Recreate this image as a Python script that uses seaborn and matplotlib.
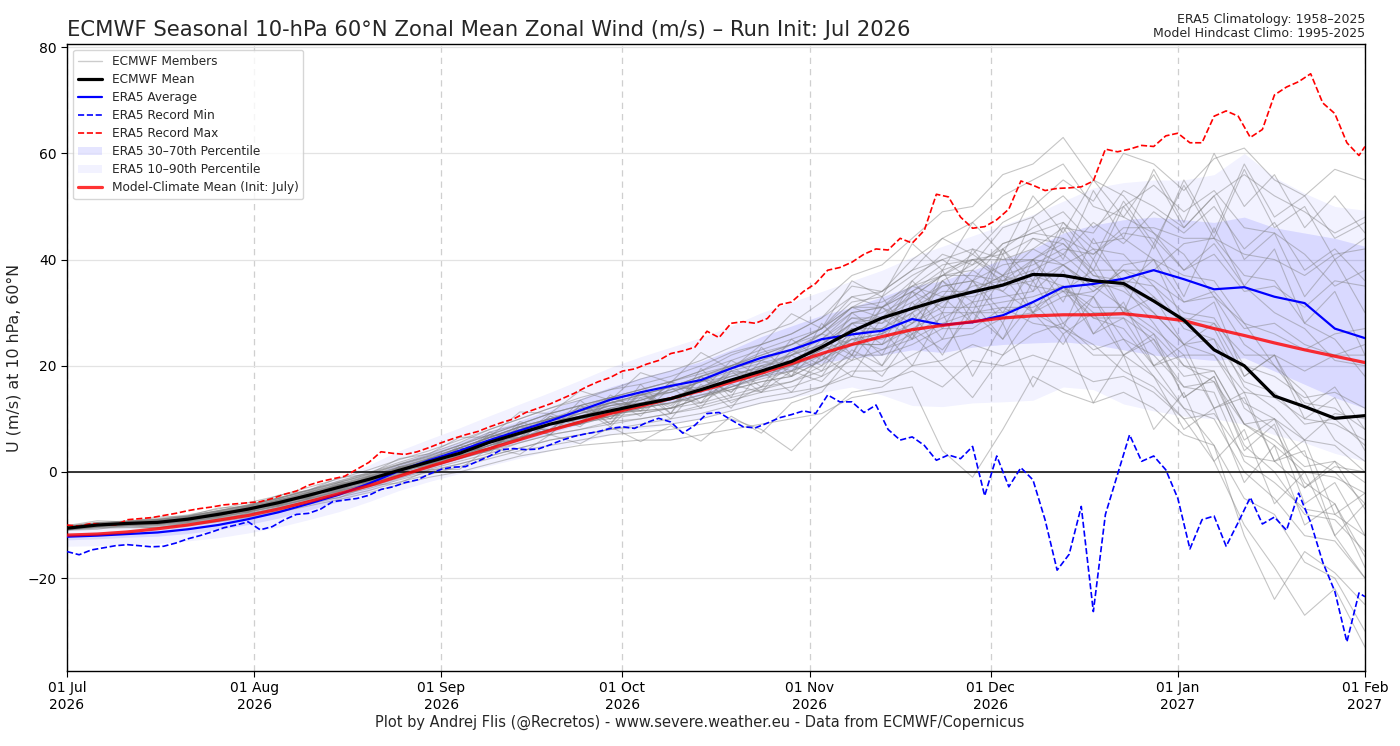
import numpy as np
import pandas as pd
import matplotlib
matplotlib.use("Agg")
import matplotlib.pyplot as plt
import matplotlib.dates as mdates
from matplotlib.lines import Line2D
from matplotlib.patches import Patch
import seaborn as sns

# ---------------- data ----------------
start_date = "2026-07-01"
step_days = list(range(0, 216, 5))            # 5-day grid, Jul 1 -> Feb 1 (44 points)
rec_days = list(range(0, 215, 2)) + [215]     # 2-day grid for the ERA5 records

ecmwf_mean = [-10.6, -10.0, -9.7, -9.5, -8.9, -8.0, -7.0, -5.8, -4.4, -2.9, -1.4, 0.3, 1.9, 3.5, 5.6,
              7.3, 9.0, 10.3, 11.5, 12.7, 13.8, 15.5, 17.3, 19.0, 20.8, 23.5, 26.5, 29.0, 30.8, 32.5,
              33.9, 35.2, 37.2, 37.0, 36.0, 35.5, 32.2, 28.6, 23.0, 20.0, 14.3, 12.3, 10.1, 10.6]
era5_avg = [-12.2, -12.0, -11.7, -11.4, -10.8, -10.0, -8.9, -7.6, -6.0, -4.3, -2.2, 0.2, 2.2, 4.0, 6.0,
            7.8, 9.6, 11.6, 13.6, 15.0, 16.2, 17.3, 19.5, 21.5, 23.0, 25.0, 25.9, 26.6, 28.8, 27.7,
            28.2, 29.5, 32.0, 34.8, 35.4, 36.4, 38.0, 36.3, 34.4, 34.8, 33.0, 31.8, 27.0, 25.2]
model_clim = [-11.9, -11.7, -11.3, -10.7, -10.0, -9.1, -8.2, -7.0, -5.6, -4.1, -2.6, -0.8, 1.0, 2.7, 4.4,
              6.1, 7.8, 9.4, 11.0, 12.4, 13.8, 15.3, 16.9, 18.6, 20.4, 22.3, 24.0, 25.5, 26.8, 27.6,
              28.3, 29.0, 29.4, 29.6, 29.6, 29.8, 29.2, 28.5, 27.0, 25.7, 24.3, 23.0, 21.8, 20.6]

era5_p10 = [-14.0, -13.9, -13.7, -13.5, -13.0, -12.4, -11.5, -10.4, -9.0, -7.5, -5.6, -3.5, -1.8, -0.3, 1.2,
            2.6, 4.0, 5.5, 7.0, 8.0, 9.0, 10.0, 11.5, 13.0, 14.0, 15.0, 16.0, 14.5, 12.5, 12.3,
            13.0, 13.2, 13.5, 16.0, 15.5, 12.8, 11.5, 10.5, 10.0, 9.0, 7.0, 5.5, 3.5, 2.0]
era5_p30 = [-12.8, -12.6, -12.3, -12.1, -11.6, -10.9, -9.9, -8.7, -7.2, -5.6, -3.6, -1.3, 0.6, 2.3, 4.1,
            5.7, 7.3, 9.0, 10.8, 12.0, 13.2, 14.3, 16.0, 17.8, 19.2, 20.5, 21.5, 22.0, 23.0, 22.5,
            23.5, 24.0, 24.3, 24.5, 24.0, 23.0, 22.0, 21.5, 21.0, 21.5, 19.0, 16.5, 14.0, 12.0]
era5_p70 = [-11.5, -11.3, -11.0, -10.6, -9.9, -9.0, -7.8, -6.4, -4.8, -3.0, -0.9, 1.6, 3.7, 5.6, 7.7,
            9.7, 11.7, 13.8, 16.0, 17.7, 19.2, 20.8, 23.0, 25.5, 27.5, 29.5, 31.0, 33.0, 35.0, 36.0,
            38.0, 40.0, 42.0, 45.0, 46.5, 47.5, 48.0, 47.5, 47.0, 48.0, 46.0, 45.0, 44.0, 42.5]
era5_p90 = [-10.5, -10.3, -9.9, -9.4, -8.6, -7.6, -6.3, -4.8, -3.0, -1.0, 1.3, 4.0, 6.2, 8.3, 10.6,
            12.8, 15.0, 17.3, 19.7, 21.7, 23.5, 25.3, 27.5, 30.0, 32.0, 34.0, 36.0, 38.0, 40.5, 42.5,
            44.5, 46.5, 48.5, 51.0, 53.5, 54.5, 55.0, 55.0, 56.0, 60.0, 55.5, 52.5, 50.0, 49.3]

era5_rec_max = [-10.0, -10.2, -9.7, -9.9, -10.0, -9.0, -8.8, -8.6, -8.2, -7.8,
                -7.3, -6.9, -6.6, -6.2, -6.0, -5.8, -5.6, -5.0, -4.2, -3.6,
                -2.5, -1.8, -1.3, -0.8, 0.5, 1.8, 3.8, 3.5, 3.3, 3.8,
                4.6, 5.5, 6.3, 7.0, 7.6, 8.5, 9.3, 10.0, 11.2, 12.0,
                12.8, 13.8, 14.8, 16.0, 17.0, 17.8, 19.0, 19.4, 20.3, 21.0,
                22.3, 22.8, 23.5, 26.5, 25.3, 28.0, 28.3, 28.0, 28.9, 31.5,
                32.0, 34.0, 35.5, 38.0, 38.5, 39.5, 41.0, 42.0, 41.8, 44.0,
                43.1, 45.5, 52.3, 51.8, 48.0, 45.9, 46.2, 47.5, 49.5, 54.8,
                54.0, 53.0, 53.4, 53.5, 53.7, 54.8, 60.8, 60.3, 60.8, 61.5,
                61.3, 63.3, 63.8, 62.0, 62.0, 67.0, 68.0, 67.0, 63.0, 64.5,
                71.0, 72.5, 73.5, 75.0, 69.5, 67.5, 62.0, 59.6, 61.3]
era5_rec_min = [-15.0, -15.6, -14.7, -14.3, -13.9, -13.7, -13.9, -14.1, -14.0, -13.4,
                -12.6, -12.0, -11.3, -10.5, -10.0, -9.4, -10.9, -10.3, -9.0, -8.0,
                -7.8, -7.0, -5.6, -5.3, -5.0, -4.4, -3.3, -2.8, -2.0, -1.5,
                -0.4, 0.5, 0.9, 1.0, 2.0, 3.0, 4.2, 4.4, 4.2, 4.3,
                5.1, 6.0, 6.7, 7.2, 7.6, 8.2, 8.5, 8.2, 9.3, 10.1,
                9.4, 7.3, 8.8, 11.0, 11.2, 9.8, 8.5, 8.3, 9.2, 10.2,
                10.8, 11.5, 11.0, 14.5, 13.2, 13.2, 11.2, 12.6, 8.0, 6.0,
                6.6, 5.0, 2.2, 3.2, 2.5, 4.8, -4.5, 3.0, -2.8, 0.8,
                -1.5, -9.0, -18.5, -15.5, -6.5, -26.3, -8.0, -0.5, 7.0, 2.0,
                3.0, 0.4, -5.0, -14.5, -9.0, -8.3, -14.0, -9.5, -4.8, -9.8,
                -8.5, -11.0, -4.0, -9.5, -17.0, -22.5, -32.0, -22.8, -23.5]

# ECMWF ensemble members (5-day grid, m/s)
ecmwf_members = [
    [-10.4, -9.7, -9.3, -9.0, -8.4, -7.3, -6.2, -4.9, -3.4, -1.7, -0.1, 1.8, 3.5,
     5.5, 8, 10, 12, 13.5, 15.5, 16.5, 18, 20, 22.5, 24, 26,
     29, 35, 34, 40, 44, 41, 47, 50, 55, 51, 60, 58, 53, 59, 61, 55, 52, 57, 55],
    [-10.5, -10.0, -9.5, -9.4, -8.6, -7.8, -6.6, -5.5, -3.9, -2.5, -0.8, 0.8, 2.5,
     4.5, 6.5, 8, 10, 11.5, 13, 14.5, 16, 18, 20, 22.5, 24,
     27, 33, 31, 36, 41, 39, 46, 48, 52, 46, 50, 54, 49, 53, 46, 45, 41, 35, 38],
    [-10.7, -10.2, -9.9, -9.8, -9.2, -8.4, -7.5, -6.3, -5.0, -3.6, -2.1, -0.5, 1.0,
     2.5, 4, 6, 8, 9.5, 10, 11, 12, 14, 17, 19.5, 22,
     26, 31, 34, 38, 44, 47, 52, 55, 58, 50, 48, 45, 38, 43, 35, 30, 27, 21, 20],
    [-10.3, -9.8, -9.6, -9.5, -9.0, -8.0, -6.9, -5.6, -4.4, -3.0, -1.3, 0.3, 2.0,
     3.5, 5, 7.5, 9, 10.5, 12.5, 13.5, 15, 17, 18, 19, 20,
     23, 28, 29, 33, 37, 41, 37, 42, 46, 45, 53, 50, 46, 52, 56, 52, 49, 45, 48],
    [-10.8, -10.3, -10.1, -10.0, -9.5, -8.7, -7.8, -6.7, -5.4, -4.0, -2.6, -1.0, 0.5,
     2, 3.5, 5.5, 7, 8, 9.5, 10, 11, 12.5, 14, 15.5, 17,
     20, 24, 24, 28, 32, 35, 36, 40, 44, 41, 45, 44, 38, 41, 34, 35, 31, 36, 35],
    [-10.3, -9.6, -9.4, -9.0, -8.3, -7.4, -6.3, -5.0, -3.5, -2.0, -0.4, 1.4, 3.0,
     5, 7.5, 9, 11, 12.5, 14, 15.5, 17, 19, 21, 23, 25,
     27, 31, 32, 35, 37, 40, 36, 38, 41, 36, 34, 30, 24, 25, 17, 15, 9, 10, 5],
    [-10.6, -10.1, -9.7, -9.7, -9.0, -8.3, -7.2, -6.2, -4.7, -3.4, -1.8, -0.2, 1.5,
     3, 4.5, 6.5, 8, 9, 10.5, 12, 13, 14.5, 16, 17.5, 19,
     22, 26, 27, 31, 36, 39, 42, 46, 49, 43, 44, 40, 32, 33, 24, 20, 13, 12, 8],
    [-10.2, -9.5, -9.3, -8.9, -8.4, -7.3, -6.4, -5.0, -3.7, -2.0, -0.6, 1.3, 2.8,
     4.5, 6.5, 8.5, 10, 11, 12.5, 13, 14, 16, 18, 20, 21,
     23, 25, 23, 26, 29, 32, 33, 34, 39, 34, 38, 36, 32, 34, 27, 28, 24, 22, 24],
    [-10.9, -10.2, -10.1, -9.8, -9.4, -8.4, -7.6, -6.3, -5.1, -3.5, -2.2, -0.4, 1.2,
     3, 5, 7, 9, 10, 11.5, 12, 13, 14, 15.5, 17, 18,
     21, 25, 26, 29, 33, 34, 37, 35, 34, 29, 29, 25, 18, 19, 9, 5, 0, -1, -4],
    [-10.8, -10.4, -10.2, -10.2, -9.7, -8.9, -8.1, -7.0, -5.8, -4.4, -3.1, -1.5, 0.0,
     1.5, 3, 4.5, 6, 7, 8, 8.5, 9, 10, 11.5, 13, 14,
     16, 19, 19, 22, 25, 26, 29, 30, 33, 34, 38, 38, 43, 44, 41, 40, 37, 41, 42],
    [-10.5, -9.8, -9.6, -9.2, -8.7, -7.7, -6.8, -5.4, -4.1, -2.5, -1.1, 0.7, 2.2,
     4, 5.5, 7.5, 9, 11, 13, 14.5, 16, 18, 19.5, 21, 23,
     26, 30, 31, 34, 38, 40, 41, 44, 43, 37, 36, 30, 24, 22, 13, 10, 3, 0, -6],
    [-10.4, -9.6, -9.2, -8.8, -8.1, -7.0, -5.8, -4.5, -2.9, -1.3, 0.4, 2.3, 4.0,
     6, 8, 10, 12, 14, 15.5, 17.5, 19, 21, 23.5, 26, 28,
     32, 37, 39, 44, 49, 50, 56, 58, 63, 55, 52, 45, 41, 33, 28, 20, 15, 6, 2],
    [-10.6, -9.9, -9.8, -9.5, -8.8, -8.1, -7.0, -5.7, -4.5, -2.9, -1.3, 0.3, 1.8,
     3.5, 5, 6.5, 8, 9.5, 10.5, 11, 12, 14, 16, 18, 20,
     23, 27, 27, 30, 33, 33, 35, 36, 39, 35, 35, 32, 29, 28, 22, 22, 19, 22, 22],
    [-10.9, -10.5, -10.4, -10.4, -9.9, -9.2, -8.4, -7.4, -6.1, -4.8, -3.5, -1.9, -0.5,
     1, 2.5, 4, 5, 6, 7, 7.5, 8, 9, 10, 8, 4,
     10, 15, 16, 20, 21, 24, 22, 26, 28, 23, 25, 22, 16, 17, 9, 10, 6, 11, 10],
    [-10.5, -9.7, -9.3, -9.0, -8.3, -7.3, -6.2, -4.9, -3.4, -1.8, -0.2, 1.5, 3.2,
     5, 7, 9, 11, 12.5, 14, 14.5, 15, 17, 20, 22, 24,
     27, 32, 33, 37, 40, 42, 40, 40, 39, 42, 36, 35, 30, 29, 20, 18, 14, 15, 12],
    [-10.7, -10.2, -10.0, -9.8, -9.3, -8.5, -7.5, -6.4, -5.1, -3.6, -2.2, -0.5, 1.0,
     2.5, 4, 5.5, 7, 8, 9, 10, 11, 12, 13.5, 15, 16,
     18, 21, 23, 25, 28, 30, 30, 32, 35, 30, 30, 26, 20, 19, 9, 6, 1, 2, -2],
    [-10.4, -9.8, -9.4, -9.2, -8.5, -7.6, -6.5, -5.3, -3.8, -2.3, -0.7, 1.0, 2.6,
     4.5, 6.5, 8.5, 10, 11.5, 13, 14, 15, 17, 19, 20.5, 22,
     24, 28, 28, 31, 34, 34, 37, 39, 42, 41, 46, 46, 44, 44, 37, 36, 28, 25, 18],
    [-10.8, -10.3, -10.0, -9.9, -9.4, -8.6, -7.6, -6.5, -5.2, -3.8, -2.3, -0.7, 0.8,
     2.5, 4.5, 6.5, 8, 9.5, 11, 12.5, 14, 15.5, 17, 19, 21,
     24, 28, 30, 33, 37, 38, 43, 45, 44, 37, 35, 28, 20, 17, 5, 0, -8, -9, -15],
    [-10.6, -9.8, -9.6, -9.3, -8.8, -7.8, -6.9, -5.6, -4.3, -2.7, -1.3, 0.5, 2.0,
     3.5, 5.5, 7.5, 9, 10.5, 12, 13, 14, 15.5, 17, 18, 19,
     21, 24, 24, 27, 30, 30, 31, 28, 27, 22, 22, 18, 12, 10, 0, -5, -12, -13, -20],
    [-10.7, -10.0, -9.9, -9.6, -9.2, -8.2, -7.4, -6.1, -4.9, -3.3, -1.9, -0.1, 1.4,
     3, 5, 7, 9, 10, 11, 11.5, 12, 13, 14.5, 16, 17,
     19, 22, 22, 24, 27, 27, 31, 31, 34, 33, 39, 40, 37, 36, 28, 26, 23, 26, 27],
    [-10.4, -9.9, -9.4, -9.3, -8.5, -7.7, -6.5, -5.4, -3.9, -2.5, -0.9, 0.8, 2.4,
     4.5, 6.5, 8.5, 10, 11.5, 13, 14.5, 16, 18, 20, 22, 24,
     27, 31, 31, 34, 37, 37, 36, 37, 35, 29, 27, 20, 12, 5, -12, -24, -15, -19, -25],
    [-10.9, -10.4, -10.2, -10.1, -9.6, -8.8, -7.9, -6.8, -5.5, -4.1, -2.8, -1.2, 0.3,
     1.5, 3, 4.5, 6, 7, 8, 9, 10, 11, 12.5, 14, 15,
     16, 18, 17, 19, 16, 21, 20, 22, 20, 17, 18, 15, 10, 11, 3, 2, -3, 1, 0],
    [-10.4, -9.7, -9.3, -9.0, -8.3, -7.4, -6.3, -5.0, -3.5, -2.0, -0.4, 1.4, 3.0,
     5, 7, 9, 11, 12.5, 14, 15.5, 17, 18.5, 20, 21.5, 23,
     25, 29, 29, 32, 35, 36, 39, 40, 43, 38, 38, 33, 28, 27, 16, 12, 6, 5, 0],
    [-10.6, -10.1, -9.7, -9.6, -9.1, -8.1, -7.2, -6.1, -4.6, -3.2, -1.7, 0.0, 1.6,
     3, 4.5, 6.5, 8, 9, 10.5, 12, 13, 14.5, 15.5, 17, 18,
     21, 25, 26, 30, 35, 36, 43, 45, 47, 42, 41, 35, 27, 25, 12, 8, -2, -6, -18],
    [-10.5, -10.0, -9.5, -9.4, -8.7, -7.7, -6.8, -5.5, -4.2, -2.6, -1.1, 0.7, 2.2,
     4, 5.5, 7.5, 9, 10, 11, 11.5, 12, 14, 16, 18, 20,
     22, 25, 25, 28, 31, 31, 32, 33, 35, 31, 31, 27, 22, 22, 15, 14, 10, 9, 6],
    [-10.9, -10.6, -10.5, -10.5, -10.1, -9.4, -8.6, -7.6, -6.4, -5.2, -3.9, -2.4, -1.0,
     0, 1.5, 3, 4, 5, 5.5, 6, 6, 7, 8, 9, 10,
     11, 14, 15, 16, 4, -1, 8, 18, 15, 13, 15, 12, 7, 5, -5, -8, -17, -20, -30],
    [-10.8, -10.1, -9.9, -9.9, -9.2, -8.6, -7.4, -6.5, -5.0, -3.7, -2.1, -0.6, 1.0,
     3, 5, 6.5, 8, 9.5, 11, 12.5, 14, 16, 18, 20, 22,
     25, 30, 31, 35, 39, 40, 40, 42, 39, 35, 31, 24, 16, 15, 2, -2, -7, -8, -12],
    [-10.4, -9.7, -9.4, -9.1, -8.5, -7.5, -6.5, -5.3, -3.8, -2.3, -0.8, 0.9, 2.5,
     4.5, 6.5, 8.5, 10, 12, 14, 15.5, 17, 19, 22, 24, 26,
     29, 33, 34, 38, 40, 36, 34, 30, 27, 24, 19, 16, 10, 2, -10, -18, -27, -22, -33],
    [-10.1, -9.2, -9.4, -8.5, -8.3, -6.8, -6.5, -4.4, -3.5, -1.1, -0.4, 2.5, 3.4,
     6.5, 6.6, 11.3, 11.0, 15.3, 13.5, 18.7, 16.8, 22.5, 19.3, 24.0, 29.8,
     27, 36, 33, 43, 38, 47, 41, 52, 45, 55, 48, 56, 46, 52, 40, 45, 33, 40, 30],
    [-11.0, -10.8, -10.0, -10.6, -9.5, -9.3, -7.7, -7.4, -5.4, -4.9, -2.6, -2.1, 0.4,
     0.5, 4.6, 3.3, 7.0, 5.3, 8.5, 5.7, 8.7, 5.8, 10.5, 7.3, 13.0,
     15, 22, 18, 26, 20, 14, 22, 30, 24, 33, 25, 18, 8, 12, -2, 5, -10, -6, -16],
    [-10.5, -9.7, -9.8, -9.0, -8.9, -7.5, -7.3, -5.0, -4.8, -2.0, -2.0, 1.0, 1.5,
     4.5, 4.0, 8.5, 8.0, 12.5, 10.0, 15.0, 12.0, 18.0, 15.0, 21.0, 19.0,
     25, 22, 31, 26, 36, 30, 42, 34, 46, 38, 50, 42, 55, 45, 58, 48, 52, 44, 47],
    [-10.8, -10.3, -9.4, -9.8, -8.5, -8.4, -6.6, -6.4, -3.9, -3.7, -0.8, -0.7, 2.6,
     3.0, 7.0, 6.5, 11.0, 9.0, 14.5, 11.5, 17.0, 13.0, 20.0, 16.0, 23.0,
     20, 28, 24, 34, 27, 36, 30, 38, 28, 33, 22, 26, 14, 18, 4, 9, -6, -2, -12],
    [-10.2, -9.6, -10.0, -9.0, -9.3, -7.5, -7.6, -5.2, -5.0, -2.3, -2.2, 1.0, 0.8,
     4.5, 3.5, 9.0, 7.0, 12.5, 9.0, 15.0, 11.0, 18.0, 13.0, 16.0, 20.0,
     18, 26, 20, 30, 22, 32, 25, 36, 27, 40, 30, 43, 33, 46, 35, 42, 28, 34, 22],
    [-10.9, -9.6, -10.1, -9.1, -9.3, -7.6, -7.5, -5.3, -4.9, -2.4, -2.0, 0.8, 1.2,
     5.0, 4.0, 9.5, 7.5, 13.5, 9.0, 16.5, 11.0, 19.5, 14.0, 23.5, 18.0,
     28, 22, 33, 25, 38, 28, 41, 30, 38, 26, 32, 20, 24, 12, 15, 2, 6, -8, -4],
    [-10.5, -10.4, -9.3, -9.9, -8.5, -8.4, -6.5, -6.3, -4.0, -3.4, -0.9, -0.3, 2.4,
     3.0, 7.5, 6.0, 10.5, 8.5, 13.5, 10.5, 16.0, 12.0, 19.0, 15.0, 22.0,
     19, 27, 22, 32, 25, 36, 28, 40, 32, 44, 35, 40, 28, 32, 18, 22, 10, 14, 4],
    [-10.7, -9.8, -9.9, -9.2, -9.2, -7.6, -7.3, -5.4, -4.8, -2.4, -1.9, 0.7, 1.0,
     4.5, 4.0, 8.5, 7.0, 12.0, 8.5, 14.0, 10.0, 16.5, 12.0, 19.0, 15.0,
     22, 18, 27, 20, 30, 18, 28, 16, 26, 13, 22, 8, 15, 2, 8, -6, 0, -12, -6],
    [-10.3, -10.2, -9.5, -9.7, -8.6, -8.2, -6.7, -6.0, -4.1, -3.2, -1.0, 0.0, 2.3,
     3.2, 7.0, 6.0, 10.5, 9.0, 14.0, 12.0, 17.0, 15.0, 21.0, 18.0, 25.0,
     21, 30, 26, 36, 30, 42, 35, 48, 40, 53, 44, 57, 47, 60, 50, 56, 46, 52, 45],
    [-10.6, -9.7, -10.0, -9.1, -9.2, -7.7, -7.4, -5.5, -4.8, -2.5, -2.0, 0.6, 1.4,
     4.0, 4.5, 8.0, 8.0, 11.5, 10.0, 14.5, 12.5, 17.5, 15.0, 20.0, 18.0,
     24, 21, 29, 25, 33, 28, 37, 30, 35, 26, 29, 20, 22, 12, 14, 2, 4, -12, -20],
    [-10.4, -10.2, -9.5, -9.6, -8.7, -8.3, -6.8, -6.1, -4.2, -3.1, -1.1, 0.2, 2.1,
     3.5, 6.5, 6.5, 10.0, 9.5, 13.0, 12.5, 16.5, 15.0, 19.0, 18.5, 22.0,
     24, 29, 28, 34, 31, 38, 34, 40, 34, 38, 30, 33, 24, 28, 18, 22, 12, 16, 8],
    [-10.8, -10.0, -9.9, -9.3, -9.1, -7.8, -7.2, -5.6, -4.6, -2.6, -1.6, 0.4, 1.7,
     4.0, 5.5, 8.0, 9.0, 11.0, 12.5, 13.5, 15.5, 16.0, 18.5, 19.5, 22.5,
     26, 24, 31, 28, 36, 32, 42, 36, 47, 40, 51, 43, 54, 44, 57, 46, 50, 40, 44],
    [-10.5, -9.9, -9.6, -9.6, -8.8, -8.0, -7.1, -5.8, -4.5, -2.9, -1.6, 0.2, 1.7,
     3.0, 5.5, 6.0, 9.0, 9.0, 12.0, 11.5, 14.0, 13.0, 16.5, 15.0, 19.0,
     17, 23, 20, 27, 23, 30, 25, 32, 26, 30, 22, 25, 14, 18, 6, 10, -3, 2, -7],
    [-10.6, -10.1, -9.6, -9.4, -8.8, -8.2, -6.9, -5.9, -4.3, -3.0, -1.3, 0.1, 2.0,
     4.0, 5.5, 7.5, 9.5, 10.5, 12.0, 13.5, 15.5, 17.0, 19.5, 21.0, 24.0,
     26, 31, 29, 35, 33, 40, 37, 44, 41, 47, 43, 49, 45, 50, 42, 47, 38, 42, 36],
]

title_text = "ECMWF Seasonal 10-hPa 60°N Zonal Mean Zonal Wind (m/s) – Run Init: Jul 2026"
info_text = "ERA5 Climatology: 1958–2025\nModel Hindcast Climo: 1995-2025"
footer_text = "Plot by Andrej Flis (@Recretos) - www.severe.weather.eu - Data from ECMWF/Copernicus"
ylabel_text = "U (m/s) at 10 hPa, 60°N"

# ---------------- build frames ----------------
t0 = pd.Timestamp(start_date)
dates = t0 + pd.to_timedelta(step_days, unit="D")
rec_dates = t0 + pd.to_timedelta(rec_days, unit="D")

for m in ecmwf_members:
    assert len(m) == len(step_days), len(m)

mem_df = pd.DataFrame({
    "date": np.tile(dates, len(ecmwf_members)),
    "u": np.concatenate([np.asarray(m, float) for m in ecmwf_members]),
    "member": np.repeat(np.arange(len(ecmwf_members)), len(step_days)),
})

# ---------------- plot ----------------
sns.set_style("ticks")
plt.rcParams["font.family"] = ["DejaVu Sans"]

fig, ax = plt.subplots(figsize=(14, 7.46), dpi=100)
fig.subplots_adjust(left=0.0479, right=0.975, top=0.941, bottom=0.1005)

ax.set_axisbelow(True)
ax.yaxis.grid(True, color="#e3e3e3", lw=0.9)
ax.xaxis.grid(True, color="#cfcfcf", lw=0.9, ls=(0, (5, 4)))

ax.fill_between(dates, era5_p10, era5_p90, color="blue", alpha=0.05, lw=0, zorder=1)
ax.fill_between(dates, era5_p30, era5_p70, color="blue", alpha=0.10, lw=0, zorder=1)

sns.lineplot(data=mem_df, x="date", y="u", units="member", estimator=None,
             color="gray", alpha=0.45, lw=0.8, legend=False, ax=ax, zorder=2)

ax.axhline(0, color="black", lw=1.1, zorder=3)

sns.lineplot(x=rec_dates, y=era5_rec_min, color="blue", lw=1.2, ls="--", ax=ax, zorder=4)
sns.lineplot(x=rec_dates, y=era5_rec_max, color="red", lw=1.2, ls="--", ax=ax, zorder=4)
sns.lineplot(x=dates, y=era5_avg, color="blue", lw=1.6, ax=ax, zorder=5)
sns.lineplot(x=dates, y=model_clim, color="red", alpha=0.8, lw=2.3, ax=ax, zorder=5)
sns.lineplot(x=dates, y=ecmwf_mean, color="black", lw=2.3, ax=ax, zorder=6)

ax.set_xlim(t0, t0 + pd.Timedelta(days=215))
ax.set_ylim(-37.5, 80.6)
ax.set_yticks([-20, 0, 20, 40, 60, 80])
ax.xaxis.set_major_locator(mdates.MonthLocator())
ax.xaxis.set_major_formatter(mdates.DateFormatter("%d %b\n%Y"))
ax.tick_params(axis="both", labelsize=10, colors="black", length=4)
for s in ax.spines.values():
    s.set_color("black")
    s.set_linewidth(1.0)

ax.set_xlabel("")
ax.set_ylabel(ylabel_text, fontsize=11.4)
ax.set_title(title_text, loc="left", fontsize=15.2, pad=6)
ax.text(1.0, 1.006, info_text, transform=ax.transAxes, ha="right", va="bottom",
        fontsize=9, linespacing=1.15)
fig.text(0.5, 0.032, footer_text, ha="center", va="center", fontsize=10.5)

handles = [
    Line2D([], [], color="gray", alpha=0.4, lw=1.0, label="ECMWF Members"),
    Line2D([], [], color="black", lw=2.3, label="ECMWF Mean"),
    Line2D([], [], color="blue", lw=1.6, label="ERA5 Average"),
    Line2D([], [], color="blue", lw=1.2, ls="--", label="ERA5 Record Min"),
    Line2D([], [], color="red", lw=1.2, ls="--", label="ERA5 Record Max"),
    Patch(facecolor="blue", alpha=0.10, lw=0, label="ERA5 30–70th Percentile"),
    Patch(facecolor="blue", alpha=0.05, lw=0, label="ERA5 10–90th Percentile"),
    Line2D([], [], color="red", alpha=0.8, lw=2.3, label="Model-Climate Mean (Init: July)"),
]
leg = ax.legend(handles=handles, loc="upper left", fontsize=8.7, frameon=True,
                framealpha=0.8, edgecolor="#cccccc", labelspacing=0.42)
leg.set_zorder(10)

fig.savefig("out.png", dpi=100)
